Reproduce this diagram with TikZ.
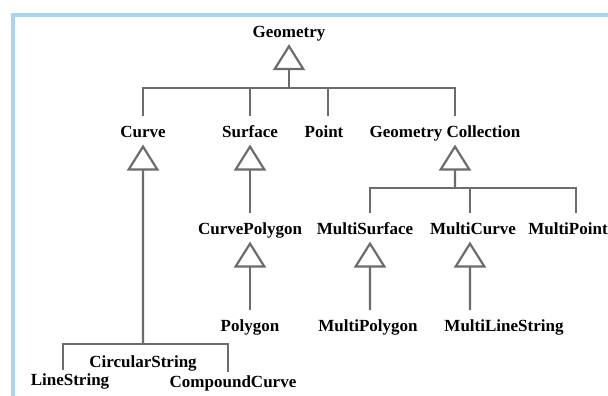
\documentclass[tikz,border=0pt]{standalone}
\usepackage{fontspec}
\setmainfont{Liberation Serif}
\usetikzlibrary{arrows.meta}
\definecolor{linegray}{RGB}{108,108,108}
\definecolor{frameblue}{RGB}{170,211,244}

\begin{document}
\begin{tikzpicture} [
      x=0.05cm, y=-0.05cm,
      klass/.style={inner xsep=1pt, inner ysep=0pt, text height=1.05cm, text depth=0.35cm,
        font=\fontsize{24.2pt}{28pt}\selectfont\bfseries},
      tree/.style={draw=linegray, line width=0.11cm},
      generalize/.style={tree, -{Triangle[open, length=1.3cm, width=1.6cm]}}
   ]
    \useasboundingbox[fill=white] (0,0) rectangle (608,396);
    \draw[frameblue, line width=0.16cm] (13,396) -- (13,15) -- (608,15);

    \node[klass] (ndGeometry) at (289,30) {Geometry};
    \node[klass, below of=ndGeometry, node distance=5.02cm, xshift=-7.3cm] (ndCurve) {Curve};
    \node[klass, right of=ndCurve, node distance=5.35cm] (ndSurface) {Surface};
    \node[klass, right of=ndSurface, node distance=3.7cm] (ndPoint) {Point};
    \node[klass, right of=ndPoint, node distance=6.05cm] (ndCollection) {Geometry Collection};

    \node[klass, below of=ndSurface, node distance=4.85cm] (ndCurvePolygon) {CurvePolygon};
    \node[klass, right of=ndCurvePolygon, node distance=5.75cm] (ndMultiSurface) {MultiSurface};
    \node[klass, right of=ndMultiSurface, node distance=5.4cm] (ndMultiCurve) {MultiCurve};
    \node[klass, right of=ndMultiCurve, node distance=4.75cm] (ndMultiPoint) {MultiPoint};

    \node[klass, below of=ndCurvePolygon, node distance=4.85cm] (ndPolygon) {Polygon};
    \node[klass, right of=ndPolygon, node distance=5.9cm] (ndMultiPolygon) {MultiPolygon};
    \node[klass, right of=ndMultiPolygon, node distance=6.8cm] (ndMultiLineString) {MultiLineString};

    \node[klass, below of=ndCurve, node distance=11.53cm] (ndCircularString) {CircularString};
    \node[klass, text height=0.8cm, below of=ndCircularString, node distance=1.025cm, xshift=-3.65cm] (ndLineString) {LineString};
    \node[klass, text height=0.8cm, below of=ndCircularString, node distance=1.125cm, xshift=4.5cm] (ndCompoundCurve) {CompoundCurve};

    % Geometry and its direct subtypes
    \coordinate (jGeometry) at (289,88);
    \draw[tree] (ndCurve.north) |- (jGeometry);
    \draw[tree] (ndSurface.north) |- (jGeometry);
    \draw[tree] ([xshift=0.2cm]ndPoint.north) |- (jGeometry);
    \draw[tree] ([xshift=0.5cm]ndCollection.north) |- (jGeometry);
    \draw[generalize] (jGeometry) -- (ndGeometry.south);

    % collections
    \coordinate (jCollection) at (455,188);
    \draw[tree] ([xshift=0.25cm]ndMultiSurface.north) |- (jCollection);
    \draw[tree] ([xshift=-0.15cm]ndMultiCurve.north) |- (jCollection);
    \draw[tree] ([xshift=0.4cm]ndMultiPoint.north) |- (jCollection);
    \draw[generalize] (jCollection) -- ([xshift=0.5cm]ndCollection.south);

    \draw[generalize] (ndCurvePolygon.north) -- (ndSurface.south);
    \draw[generalize] (ndPolygon.north) -- (ndCurvePolygon.south);
    \draw[generalize] ([xshift=0.1cm]ndMultiPolygon.north) -- ([xshift=0.25cm]ndMultiSurface.south);
    \draw[generalize] ([xshift=-1.7cm]ndMultiLineString.north) -- ([xshift=-0.15cm]ndMultiCurve.south);

    % curves
    \coordinate (jCurve) at (143,344);
    \draw[tree] ([xshift=-0.35cm]ndLineString.north) |- (jCurve) -| ([xshift=-0.25cm]ndCompoundCurve.north);
    \draw[generalize] (jCurve) -- (ndCurve.south);

  \end{tikzpicture}
\end{document}
